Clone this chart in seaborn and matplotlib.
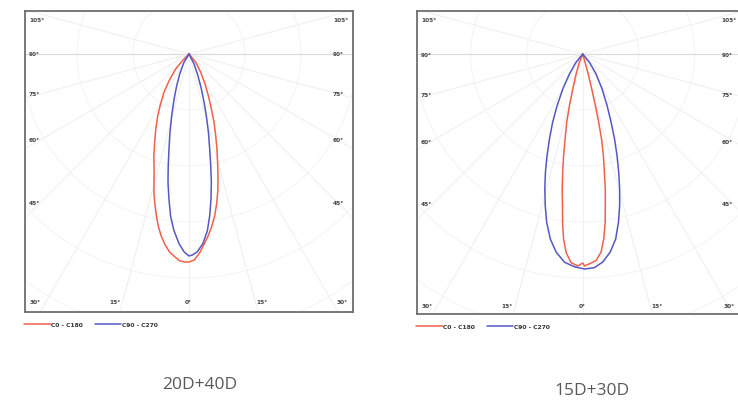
import numpy as np
import pandas as pd
import seaborn as sns
import matplotlib.pyplot as plt

sns.set_theme(style="white")
plt.rcParams['font.family'] = ['DejaVu Sans']

# polar intensity curves, angle from nadir (deg, negative = left half), relative intensity
left_red_angle = [-46, -44.6, -41.6, -36.8, -33.1, -29.5, -26.9, -23.9, -21.2, -19.0, -16.9, -14.2,
                  -12.8, -11.4, -10.1, -8.7, -7.2, -5.6, -4.1, -2.6, -1.2, 0,
                  1.5, 3.1, 4.5, 6.0, 7.5, 9.0, 10.5, 12.0, 13.4, 14.8, 16.4, 18.1, 20.1, 22.2,
                  24.9, 28.1, 32.6, 38.9, 42]
left_red_cd = [0, 9, 20, 33, 46, 58, 69, 82, 95, 108, 120, 143,
               154, 165, 175, 184, 192, 199, 203, 207, 208, 208,
               206, 199, 191, 183, 174, 164, 152, 139, 125, 112, 99, 86, 73, 59,
               46, 34, 22, 11, 0]

left_blue_angle = [-33, -31.0, -24.9, -21.2, -18.4, -15.7, -13.6, -11.9, -10.5, -9.3, -7.9, -6.5,
                   -4.9, -3.0, -1.4, 0,
                   1.0, 2.4, 4.2, 5.9, 7.3, 8.6, 9.9, 11.0, 12.3, 13.9, 15.7, 17.3, 19.5, 22.5,
                   26.6, 29]
left_blue_cd = [0, 10, 22, 34, 47, 64, 81, 97, 114, 130, 146, 163,
                177, 190, 198, 202,
                201, 198, 190, 178, 163, 147, 130, 114, 97, 81, 64, 51, 37, 23,
                11, 0]

right_red_angle = [-23, -21.7, -18.3, -15.9, -14.4, -13.2, -11.7, -10.6, -9.6, -8.6, -7.6, -6.8,
                   -5.9, -4.8, -3.2, -1.3, 0,
                   0.5, 1.8, 3.7, 5.3, 6.5, 7.6, 8.5, 9.5, 10.4, 11.5, 12.5, 13.2, 13.8, 14.5,
                   15.5, 16.0, 16.5]
right_red_cd = [0, 9, 21, 36, 53, 70, 87, 104, 120, 137, 153, 170,
                186, 199, 209, 212, 209,
                212, 210, 207, 199, 186, 170, 153, 137, 120, 104, 87, 70, 53, 36,
                20, 9, 0]

right_blue_angle = [-40, -38.5, -33.6, -29.7, -26.3, -23.7, -21.4, -19.3, -17.5, -15.7, -13.9, -12.1,
                    -9.9, -7.6, -5.0, -2.2, 0.5,
                    3.1, 5.5, 7.9, 10.1, 12.0, 13.7, 15.3, 16.9, 18.7, 20.5, 22.6, 25.3, 29.0,
                    33.8, 38.9, 40]
right_blue_cd = [0, 11, 24, 40, 58, 75, 91, 108, 124, 140, 156, 172,
                 188, 200, 209, 213, 215,
                 214, 209, 200, 188, 172, 156, 140, 124, 107, 91, 74, 57, 40,
                 24, 11, 0]

side_labels = ["105°", "90°", "75°", "60°", "45°"]
bottom_labels = ["30°", "15°", "0°", "15°", "30°"]
series_names = ["C0 - C180", "C90 - C270"]
titles = ["20D+40D", "15D+30D"]

RED = "#f0604a"
BLUE = "#5557c4"


def to_frame(angle, cd):
    g = np.radians(angle)
    cd = np.asarray(cd, dtype=float)
    return pd.DataFrame({"x": cd * np.sin(g), "y": -cd * np.cos(g)})


def draw_panel(ax, red, blue, xlim, ylim, side_y, side_x, bottom_x, bottom_y):
    # very faint polar grid
    t = np.linspace(0, 2 * np.pi, 300)
    for r in [56, 112, 168, 224, 280]:
        ax.plot(r * np.cos(t), r * np.sin(t), color="#f3f3f3", lw=0.7, zorder=0)
    for a in range(-105, 106, 15):
        g = np.radians(a)
        c = "#dadada" if abs(a) == 90 else "#f0f0f0"
        ax.plot([0, 500 * np.sin(g)], [0, -500 * np.cos(g)], color=c, lw=0.8, zorder=0)

    sns.lineplot(data=to_frame(*red), x="x", y="y", sort=False, estimator=None,
                 color=RED, lw=1.1, label=series_names[0], ax=ax)
    sns.lineplot(data=to_frame(*blue), x="x", y="y", sort=False, estimator=None,
                 color=BLUE, lw=1.1, label=series_names[1], ax=ax)

    ax.set_xlim(*xlim)
    ax.set_ylim(*ylim)
    ax.set_xticks([])
    ax.set_yticks([])
    ax.set_xlabel("")
    ax.set_ylabel("")
    for s in ax.spines.values():
        s.set_color("#6e6e6e")
        s.set_linewidth(1.3)

    lab = dict(fontsize=4.2, color="#444444", weight="bold", va="center")
    for txt, yy in zip(side_labels, side_y):
        ax.text(xlim[0] + 4, yy, txt, ha="left", **lab)
        ax.text(side_x, yy, txt, ha="left", **lab)
    for txt, xx in zip(bottom_labels, bottom_x):
        ax.text(xx, bottom_y, txt, ha="center", **lab)

    ax.legend(loc="upper left", bbox_to_anchor=(-0.018, -0.015), ncol=2, frameon=False,
              prop={"size": 4.3, "weight": "bold"}, handlelength=4.4,
              handletextpad=0.1, columnspacing=2.0, labelcolor="#333333")


fig = plt.figure(figsize=(7.38, 4.02), dpi=100)
W, H = 738, 402

ax1 = fig.add_axes([25 / W, 1 - 313 / H, 328 / W, 301 / H])
draw_panel(ax1, (left_red_angle, left_red_cd), (left_blue_angle, left_blue_cd),
           (-164, 164), (-258, 43),
           side_y=[35, 0, -40, -86, -149], side_x=144,
           bottom_x=[-154, -74, -1, 73, 153], bottom_y=-248)

ax2 = fig.add_axes([417 / W, 1 - 315 / H, 331.4 / W, 303 / H])
draw_panel(ax2, (right_red_angle, right_red_cd), (right_blue_angle, right_blue_cd),
           (-165.7, 165.7), (-260, 43),
           side_y=[35, 0, -40, -87, -150], side_x=139,
           bottom_x=[-156, -76, 0, 74, 146], bottom_y=-252)

cap = dict(fontsize=12.5, color="#595959", ha="center", va="center", family="Open Sans")
fig.text(200 / W, 1 - 385 / H, titles[0], **cap)
fig.text(592 / W, 1 - 391 / H, titles[1], **cap)

fig.savefig("out.png", dpi=100, facecolor="white")
